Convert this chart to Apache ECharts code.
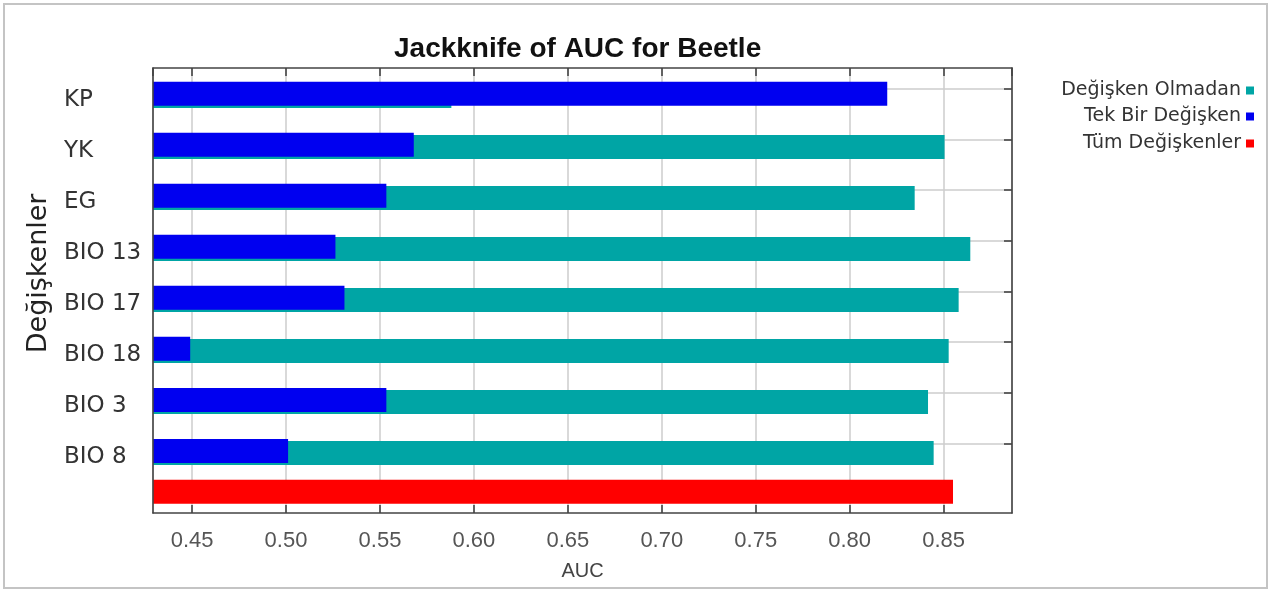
<!DOCTYPE html>
<html>
<head>
<meta charset="utf-8">
<script src="https://cdn.jsdelivr.net/npm/echarts@6/dist/echarts.min.js"></script>
<style>
html,body{margin:0;padding:0;background:#fff;}
#chart{width:1270px;height:590px;}
</style>
</head>
<body>
<div id="chart"></div>
<script>
// ---- data ----
const categories = ['KP', 'YK', 'EG', 'BIO 13', 'BIO 17', 'BIO 18', 'BIO 3', 'BIO 8'];
const withoutVariable = [0.588, 0.8505, 0.8346, 0.8642, 0.858, 0.8527, 0.8417, 0.8447];   // Değişken Olmadan
const withOnlyVariable = [0.820, 0.568, 0.5534, 0.5263, 0.5311, 0.449, 0.5534, 0.5011];   // Tek Bir Değişken
const allVariables = [0.855];                                                              // Tüm Değişkenler
const allCategory = [''];
const xRange = [0.4292, 0.8864];
const gridRowRange = [0, 7];
const seriesNames = ['Değişken Olmadan', 'Tek Bir Değişken', 'Tüm Değişkenler'];
const seriesColors = ['#00a5a5', '#0000f0', '#ff0000'];

const chart = echarts.init(document.getElementById('chart'), null, {renderer: 'canvas'});

const frameLine = {show: true, onZero: false, lineStyle: {color: '#444', width: 1.6}};
const hiddenX = (g) => ({gridIndex: g, type: 'value', min: xRange[0], max: xRange[1], show: false});

const legendBase = (name, top) => ({
  data: [{name: name, icon: 'rect'}],
  right: 16, top: top, orient: 'vertical', align: 'right',
  itemWidth: 8, itemHeight: 8, padding: 0, selectedMode: false,
  textStyle: {fontFamily: 'DejaVu Sans', fontSize: 19, color: '#333'}
});

const option = {
  animation: false,
  backgroundColor: '#fff',
  title: {
    text: 'Jackknife of AUC for Beetle',
    left: 394, top: 35, padding: 0,
    textStyle: {fontFamily: 'Liberation Sans', fontWeight: 'bold', fontSize: 28, color: '#111'}
  },
  graphic: [{
    type: 'rect', shape: {x: 4, y: 4, width: 1263, height: 584},
    style: {fill: 'none', stroke: '#c4c4c4', lineWidth: 2}, silent: true, z: -1
  }],
  legend: [
    legendBase(seriesNames[0], 81),
    legendBase(seriesNames[1], 107),
    legendBase(seriesNames[2], 134)
  ],
  grid: [
    {left: 153, top: 68, width: 859, height: 445},      // frame / x axis
    {left: 153, top: 69.3, width: 859, height: 408.2},  // variable bars
    {left: 153, top: 89, width: 859, height: 354.3},    // horizontal grid lines
    {left: 153, top: 466.7, width: 859, height: 50}     // all-variables bar
  ],
  xAxis: [
    {
      gridIndex: 0, type: 'value', position: 'bottom', min: xRange[0], max: xRange[1], splitNumber: 9,
      axisLine: frameLine,
      axisTick: {show: true, inside: true, length: 8, lineStyle: {color: '#444', width: 1.6}},
      axisLabel: {
        formatter: (v) => v.toFixed(2), showMinLabel: false, showMaxLabel: false,
        fontFamily: 'Liberation Sans', fontSize: 22, color: '#555', margin: 17
      },
      splitLine: {show: true, lineStyle: {color: '#cdcdcd', width: 1.5}},
      name: 'AUC', nameLocation: 'middle', nameGap: 48,
      nameTextStyle: {fontFamily: 'Liberation Sans', fontSize: 20, color: '#444'}
    },
    {
      gridIndex: 0, type: 'value', position: 'top', min: xRange[0], max: xRange[1], splitNumber: 9,
      axisLine: frameLine,
      axisTick: {show: true, inside: true, length: 8, lineStyle: {color: '#444', width: 1.6}},
      axisLabel: {show: false}, splitLine: {show: false}
    },
    hiddenX(2),
    hiddenX(1),
    hiddenX(3)
  ],
  yAxis: [
    {gridIndex: 0, type: 'value', position: 'left', min: 0, max: 1, z: 5,
     axisLine: frameLine, axisTick: {show: false}, axisLabel: {show: false}, splitLine: {show: false}},
    {gridIndex: 0, type: 'value', position: 'right', min: 0, max: 1,
     axisLine: frameLine, axisTick: {show: false}, axisLabel: {show: false}, splitLine: {show: false}},
    {gridIndex: 2, type: 'value', position: 'right', min: gridRowRange[0], max: gridRowRange[1], interval: 1,
     axisLine: {show: false, onZero: false},
     axisTick: {show: true, inside: true, length: 8, lineStyle: {color: '#444', width: 1.6}},
     axisLabel: {show: false},
     splitLine: {show: true, lineStyle: {color: '#cdcdcd', width: 1.5}}},
    {gridIndex: 1, type: 'category', data: categories, inverse: true,
     axisLine: {show: false, onZero: false}, axisTick: {show: false}, splitLine: {show: false},
     axisLabel: {align: 'left', verticalAlign: 'top', lineHeight: 10, margin: 89,
                 fontFamily: 'DejaVu Sans', fontSize: 23, color: '#333'},
     name: 'Değişkenler', nameLocation: 'middle', nameGap: 101, nameRotate: 90,
     nameTextStyle: {fontFamily: 'DejaVu Sans', fontSize: 27, color: '#222'}},
    {gridIndex: 3, type: 'category', data: allCategory, show: false}
  ],
  series: [
    {
      name: seriesNames[1], type: 'bar', xAxisIndex: 3, yAxisIndex: 3, z: 3,
      barWidth: 24, barGap: '-91%', itemStyle: {color: seriesColors[1]}, data: withOnlyVariable
    },
    {
      name: seriesNames[0], type: 'bar', xAxisIndex: 3, yAxisIndex: 3, z: 2,
      barWidth: 24, barGap: '-91%', itemStyle: {color: seriesColors[0]}, data: withoutVariable
    },
    {
      name: seriesNames[2], type: 'bar', xAxisIndex: 4, yAxisIndex: 4, z: 2,
      barWidth: 24, itemStyle: {color: seriesColors[2]}, data: allVariables
    }
  ]
};
chart.setOption(option);
</script>
</body>
</html>
